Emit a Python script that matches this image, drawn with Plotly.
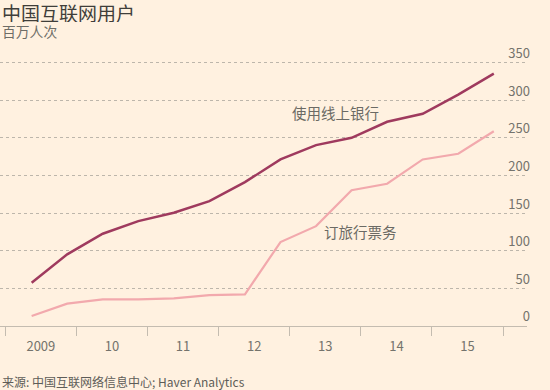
import plotly.graph_objects as go

# Half-yearly observation points (decimal years)
periods = [2009.37, 2009.87, 2010.37, 2010.87, 2011.37, 2011.87, 2012.37,
           2012.87, 2013.37, 2013.87, 2014.37, 2014.87, 2015.37, 2015.87]
online_banking = [57.6, 95.2, 122.6, 139.4, 150.5, 165.9, 191.1,
                  221.3, 240.3, 250.0, 271.3, 281.9, 307.5, 335.4]
travel_booking = [13.3, 29.7, 35.4, 35.4, 36.8, 41.1, 42.1,
                  111.5, 132.7, 180.5, 189.0, 221.3, 228.8, 258.8]

year_centres = [2009.5, 2010.5, 2011.5, 2012.5, 2013.5, 2014.5, 2015.5]
year_labels = ["2009", "10", "11", "12", "13", "14", "15"]
year_bounds = [2009, 2010, 2011, 2012, 2013, 2014, 2015, 2016]
y_ticks = [0, 50, 100, 150, 200, 250, 300, 350]

BG = "#fff1e0"
GREY = "#74736c"
CJK = "Noto Sans CJK SC, Noto Sans, sans-serif"

T, B = 40, 64
PH = 390 - T - B  # plot height in px


def py(px):
    """paper y for a pixel row measured from the top of the page"""
    return (390 - B - px) / PH


fig = go.Figure()
fig.add_trace(go.Scatter(x=periods, y=travel_booking, mode="lines",
                         line=dict(color="#f2a9ad", width=2.2), hoverinfo="skip"))
fig.add_trace(go.Scatter(x=periods, y=online_banking, mode="lines",
                         line=dict(color="#9f3a5e", width=2.5), hoverinfo="skip"))

fig.add_annotation(x=2013.65, y=283.5, text="使用线上银行", showarrow=False,
                   font=dict(family=CJK, size=14.5, color="#6b6a64"))
fig.add_annotation(x=2014.0, y=125.5, text="订旅行票务", showarrow=False,
                   font=dict(family=CJK, size=14.5, color="#6b6a64"))

fig.update_layout(
    width=550, height=390,
    margin=dict(l=0, r=23, t=T, b=B),
    paper_bgcolor=BG, plot_bgcolor=BG,
    showlegend=False,
    font=dict(family=CJK, color=GREY),
)
fig.add_annotation(text="中国互联网用户", xref="paper", yref="paper", x=0.0, xshift=1,
                   y=py(11.5), yanchor="middle", xanchor="left", showarrow=False,
                   height=20, borderpad=0,
                   font=dict(family=CJK, size=19, color="#3f3e3a"))
fig.add_annotation(text="百万人次", xref="paper", yref="paper", x=0.0, xshift=1,
                   y=py(31.5), yanchor="middle", xanchor="left", showarrow=False,
                   height=16, borderpad=0,
                   font=dict(family=CJK, size=13.8, color="#6e6d67"))
fig.add_annotation(text="来源: 中国互联网络信息中心; Haver Analytics", xref="paper", yref="paper",
                   x=0.0, xshift=0, y=py(381), yanchor="middle", xanchor="left",
                   showarrow=False, font=dict(family=CJK, size=12, color="#5e5d58"))

fig.update_xaxes(
    range=[2008.925, 2016.337],
    tickvals=year_centres, ticktext=year_labels, ticks="",
    tickfont=dict(family=CJK, size=13, color=GREY),
    showgrid=False, zeroline=False,
    showline=True, linecolor="#c4bcb0", linewidth=1.2,
    ticklabelstandoff=8,
    minor=dict(tickvals=year_bounds, ticks="outside", ticklen=9,
               tickcolor="#c4bcb0", tickwidth=1, showgrid=False),
    fixedrange=True,
)
fig.update_yaxes(
    range=[0, 380], side="right",
    tickvals=y_ticks, ticklabelposition="inside top",
    ticklabelstandoff=-6,
    tickfont=dict(family=CJK, size=13, color=GREY),
    showgrid=True, gridcolor="#bdb6ab", griddash="dot", gridwidth=1,
    zeroline=False, showline=False, ticks="",
    fixedrange=True,
)

fig.write_html("out.html")
